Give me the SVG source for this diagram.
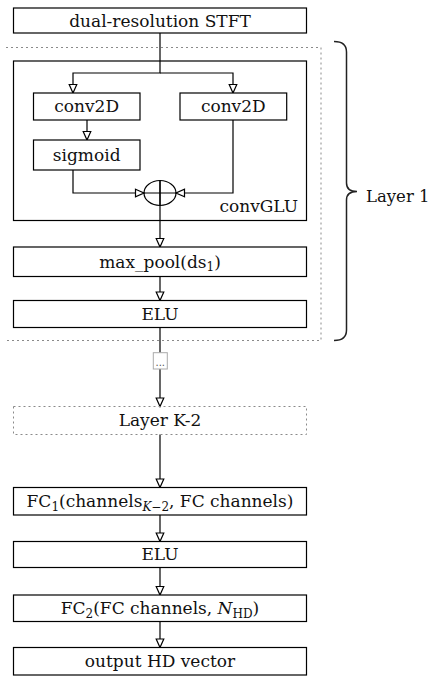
<svg xmlns="http://www.w3.org/2000/svg" width="432" height="677" viewBox="0 0 432 677">
<style>
.box{fill:#fff;stroke:#000;stroke-width:1.2}
.dot{fill:none;stroke:#8a8a8a;stroke-width:1;stroke-dasharray:2 3}
.ln{fill:none;stroke:#000;stroke-width:1.2}
.t{font-family:"DejaVu Serif","Liberation Serif",serif;font-size:17px;fill:#111;text-anchor:middle}
.s{font-size:12px}
</style>
<defs>
<marker id="ah" markerUnits="userSpaceOnUse" markerWidth="12" markerHeight="12" viewBox="-2 -6 12 12" refX="8.5" refY="0" orient="auto">
<path d="M0,-3.8 L8.5,0 L0,3.8 Z" fill="#fff" stroke="#000" stroke-width="1.2" stroke-linejoin="miter"/>
</marker>
</defs>
<rect width="432" height="677" fill="#fff"/>
<g id="layer1-frame">
<path class="dot" d="M6,47.5 H321 V340.5 H6"/>
</g>
<g id="convGLU">
<rect class="box" x="13.5" y="61" width="293" height="159.5"/>
<text class="t" x="298" y="212" style="text-anchor:end">convGLU</text>
</g>
<g id="connectors">
<path class="ln" d="M160,33 V73 H73 V93" marker-end="url(#ah)"/>
<path class="ln" d="M160,73 H233 V93" marker-end="url(#ah)"/>
<path class="ln" d="M87,120 V140" marker-end="url(#ah)"/>
<path class="ln" d="M73,170 V193 H144" marker-end="url(#ah)"/>
<path class="ln" d="M233,120 V193 H176" marker-end="url(#ah)"/>
<path class="ln" d="M160,180.5 V247" marker-end="url(#ah)"/>
<path class="ln" d="M160,276.5 V300.5" marker-end="url(#ah)"/>
<path class="ln" d="M160,327.5 V352.7"/>
<path class="ln" d="M160,369 V406.5" marker-end="url(#ah)"/>
<path class="ln" d="M160,434.5 V487.5" marker-end="url(#ah)"/>
<path class="ln" d="M160,515 V541.5" marker-end="url(#ah)"/>
<path class="ln" d="M160,567.5 V595" marker-end="url(#ah)"/>
<path class="ln" d="M160,621.5 V647.5" marker-end="url(#ah)"/>
</g>
<g id="stft">
<rect class="box" x="13.5" y="8" width="293" height="25"/>
<text class="t" x="160" y="26.5">dual-resolution STFT</text>
</g>
<g id="conv2d-left">
<rect class="box" x="33.5" y="93" width="106.5" height="27"/>
<text class="t" x="86.7" y="112.3">conv2D</text>
</g>
<g id="conv2d-right">
<rect class="box" x="180" y="93" width="106.7" height="27"/>
<text class="t" x="233.3" y="112.3">conv2D</text>
</g>
<g id="sigmoid">
<rect class="box" x="33.5" y="140" width="106.5" height="30"/>
<text class="t" x="86.7" y="160.5">sigmoid</text>
</g>
<g id="combine">
<ellipse cx="160" cy="193" rx="16" ry="12.5" fill="none" stroke="#000" stroke-width="1.2"/>
<path class="ln" d="M144,193 H176 M160,180.5 V205.5"/>
</g>
<g id="maxpool">
<rect class="box" x="13.5" y="247" width="293" height="29.5"/>
<text class="t" x="160" y="267.8">max_pool(ds<tspan class="s" dy="3.5">1</tspan><tspan dy="-3.5">)</tspan></text>
</g>
<g id="elu1">
<rect class="box" x="13.5" y="300.5" width="293" height="27"/>
<text class="t" x="160" y="319.8">ELU</text>
</g>
<g id="ellipsis">
<rect x="153.3" y="352.7" width="14" height="16.3" fill="#fff" stroke="#aaa" stroke-width="1"/>
<text x="160.3" y="366" style="font-family:'DejaVu Sans',sans-serif;font-size:10px;fill:#555;text-anchor:middle">...</text>
</g>
<g id="layerK2">
<rect x="13.5" y="406.5" width="293" height="28" fill="#fff" class="dot"/>
<text class="t" x="160" y="426.3">Layer K-2</text>
</g>
<g id="fc1">
<rect class="box" x="13.5" y="487.5" width="293" height="27.5"/>
<text class="t" x="160" y="507">FC<tspan class="s" dy="3.5">1</tspan><tspan dy="-3.5">(channels</tspan><tspan class="s" dy="3.5"><tspan font-style="italic">K</tspan>−2</tspan><tspan dy="-3.5">, FC channels)</tspan></text>
</g>
<g id="elu2">
<rect class="box" x="13.5" y="541.5" width="293" height="26"/>
<text class="t" x="160" y="560.3">ELU</text>
</g>
<g id="fc2">
<rect class="box" x="13.5" y="595" width="293" height="26.5"/>
<text class="t" x="160" y="614">FC<tspan class="s" dy="3.5">2</tspan><tspan dy="-3.5">(FC channels, </tspan><tspan font-style="italic">N</tspan><tspan class="s" dy="3.5">HD</tspan><tspan dy="-3.5">)</tspan></text>
</g>
<g id="output">
<rect class="box" x="13.5" y="647.5" width="293" height="27.5"/>
<text class="t" x="160" y="667">output HD vector</text>
</g>
<g id="brace">
<path d="M334,41.5 Q346.5,41.5 346.5,52 V183 Q346.5,191.5 357,191.5 Q346.5,191.5 346.5,200 V330 Q346.5,340.5 334,340.5" fill="none" stroke="#222" stroke-width="1.5"/>
<text class="t" x="366" y="201.5" style="text-anchor:start;font-size:16.5px">Layer 1</text>
</g>
</svg>
